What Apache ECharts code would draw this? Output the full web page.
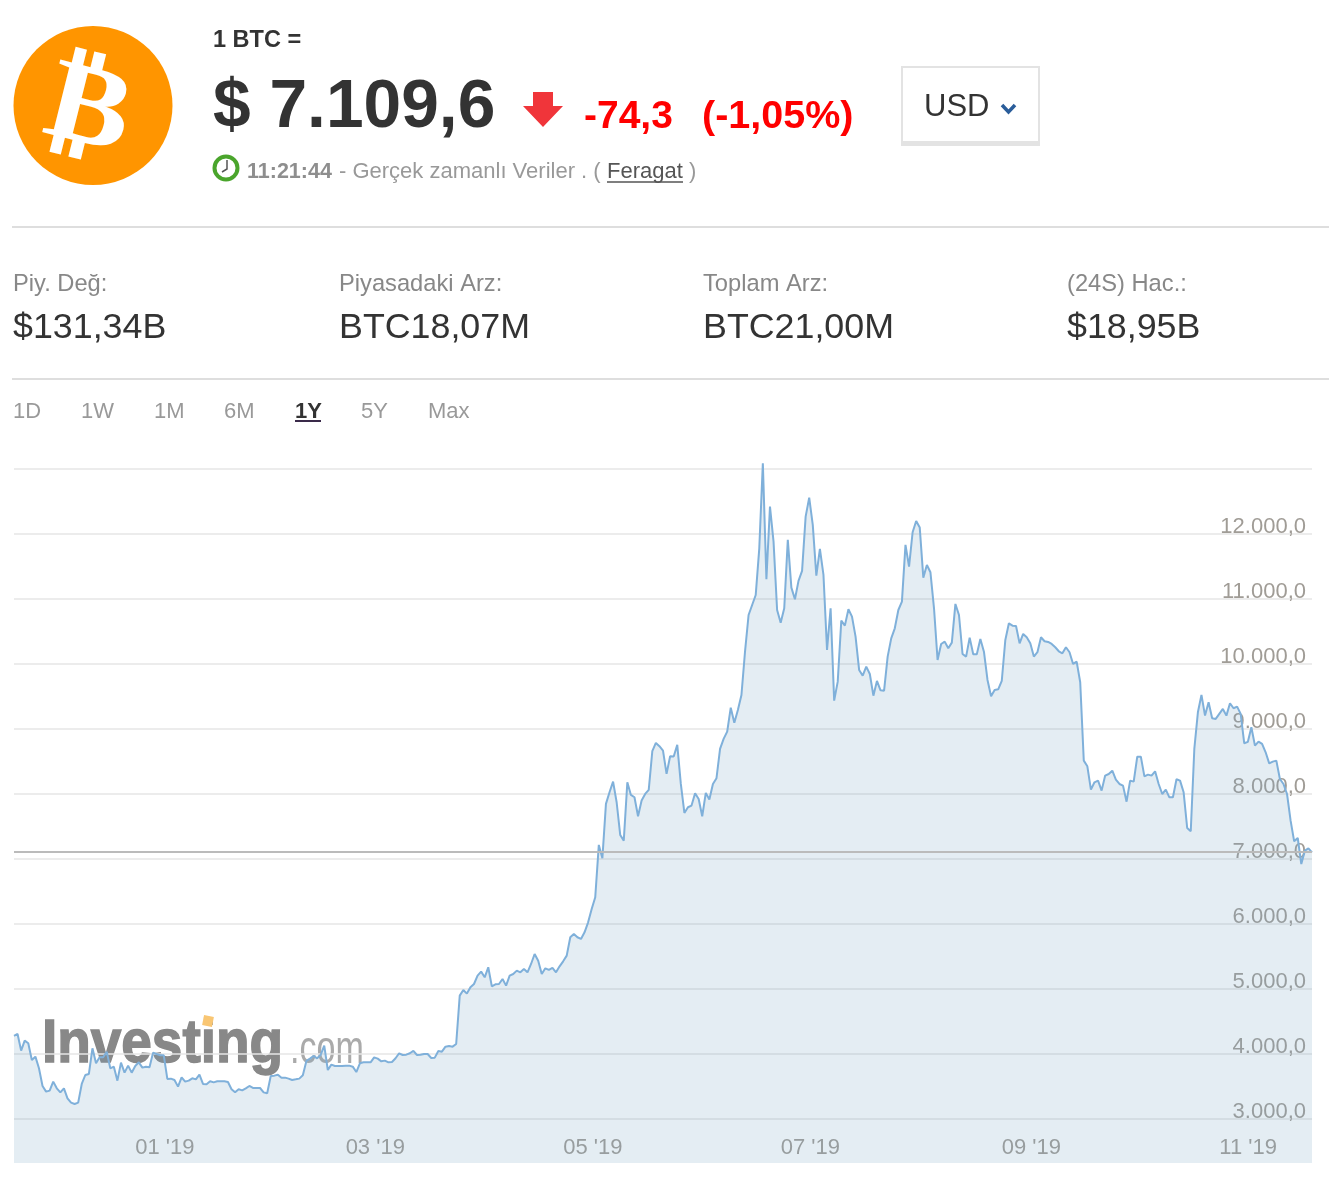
<!DOCTYPE html>
<html lang="tr">
<head>
<meta charset="utf-8">
<title>BTC USD</title>
<style>html,body{margin:0;padding:0;background:#fff;overflow:hidden;height:1182px}#c{width:1329px;height:1184px}</style>
<script src="https://cdn.jsdelivr.net/npm/echarts@6/dist/echarts.min.js"></script>
</head>
<body>
<div id="c"></div>
<script>
// ---- Data (USD, one value per day, from 2018-11-28)
const startDate = '2018-11-28';
const pricesWinter = [4277,4308,4052,4206,4165,3908,3959,3780,3508,3421,3436,3575,3472,3410,3472,3318,3251,3231,3251,3539,3677,3693,4088,3857,3949,3949,4036,3780,3805,3590,3867,3713,3821,3713,3816,3872,3790,3805,3795,4021,4000,3980,3980,3616,3621,3600,3498,3641,3575,3590,3626,3610,3682,3539,3534,3580,3564,3580,3580,3580,3569,3457,3410,3457,3441,3472,3508,3477,3477,3477,3410,3395,3662,3667,3682,3636,3636,3621,3600,3610,3621,3672,3893,3929,3970,3934,3985,4129,3754,3836,3816,3816,3816,3821,3821,3805,3723,3857,3872,3872,3872,3949,3929,3887,3898,3872,3877,3934,4011,3985,3990,4011,4047,3985,3990,4000,4000,3939,3944,4047,4036,4113,4123,4113,4154];
const pricesSpring = [4898,4985,4929,5026,5077,5206,5267,5180,5334,5041,5072,5077,5154,5052,5206,5231,5283,5257,5308,5257,5385,5539,5436,5231,5318,5293,5324,5257,5349,5426,5513,5796,5847,5796,5770,5872,6026,6232,6411,7217,7011,7848,8027,8191,7873,7370,7283,8181,7986,7950,7658,7899,8001,8063,8658,8786,8735,8668,8309,8581,8576,8756,8155,7709,7796,7822,8012,7924,7658,8017,7914,8155,8243,8694,8848];
const pricesSummer = [8959,9328,9097,9292,9523,10190,10754,10908,11062,11780,13089,11303,12422,11883,10831,10636,10857,11909,11175,10996,11278,11432,12268,12560,12140,11360,11770,11370,10216,10857,9436,9728,10667,10590,10842,10729,10421,9908,9821,9959,9846,9513,9739,9595,9590,10113,10395,10549,10831,10960,11832,11498,12027,12201,12099,11329,11524,11411,10857,10062,10308,10344,10241,10329,10924,10754,10154,10113,10406,10149,10149,10385,10190,9754,9503,9600,9610,9739,10370,10626,10590,10585,10318];
const pricesAutumn = [10463,10411,10319,10114,10181,10411,10350,10340,10309,10258,10196,10165,10258,10181,10001,10037,9719,8513,8426,8067,8180,8206,8052,8283,8308,8359,8221,8154,8129,7882,8206,8190,8575,8575,8272,8298,8283,8349,8154,8000,8067,7949,7949,8226,8206,8026,7477,7426,8693,9257,9524,9206,9411,9165,9155,9232,9309,9206,9396,9319,9344,9232,8780,8801,9026,8744,8806,8770,8642,8472,8498,8513,8231,8154,8000,7590,7272,7323,6923,7128,7164,7103];
const currentPrice = [7109.6];
const monthLabels = {'2019-01-01':"01 '19",'2019-03-01':"03 '19",'2019-05-01':"05 '19",'2019-07-01':"07 '19",'2019-09-01':"09 '19",'2019-11-01':"11 '19"};
const statLabels = ['Piy. Değ:','Piyasadaki Arz:','Toplam Arz:','(24S) Hac.:'];
const statValues = ['$131,34B','BTC18,07M','BTC21,00M','$18,95B'];
const rangeTabs = ['1D','1W','1M','6M','1Y','5Y','Max'];
const activeTab = '1Y';

const prices = pricesWinter.concat(pricesSpring, pricesSummer, pricesAutumn);
const categories = prices.map((_, i) => {
  const d = new Date(Date.parse(startDate + 'T00:00:00Z') + i * 864e5);
  return d.toISOString().slice(0, 10);
});

// ---- Layout of the page furniture
const FF = '"Liberation Sans", Arial, sans-serif';
const statX = [13, 339, 703, 1067];
const tabX = [13, 81, 154, 224, 295, 361, 428];

function txt(text, x, y, font, fill, extra, styleExtra) {
  return Object.assign({
    type: 'text', x: x, y: y,
    style: Object.assign({text: text, x: 0, y: 0, font: font + ' ' + FF, fill: fill,
      textAlign: 'left', align: 'left', textVerticalAlign: 'middle', verticalAlign: 'middle'}, styleExtra || {})
  }, extra || {});
}
function hline(x1, x2, y, color, w) {
  return {type: 'line', shape: {x1: x1, y1: y, x2: x2, y2: y}, style: {stroke: color, lineWidth: w}};
}

const graphics = [
  // logo
  {type: 'circle', shape: {cx: 93, cy: 105.5, r: 79.5}, style: {fill: '#ff9500'}},
  {type: 'text', x: 88, y: 113, rotation: -0.245, scaleX: 1.1,
   style: {text: '\u20BF', x: 0, y: 0, font: 'bold 114px "DejaVu Sans"', fill: '#fff',
     textAlign: 'center', align: 'center', textVerticalAlign: 'middle', verticalAlign: 'middle'}},
  // price header
  txt('1 BTC =', 213, 41, 'bold 23.5px', '#333'),
  txt('$ 7.109,6', 213, 108.5, 'bold 67.7px', '#333'),
  {type: 'polygon', shape: {points: [[533,92],[553,92],[553,106],[563,106],[543,127],[523,106],[533,106]]}, style: {fill: '#f0353a'}},
  txt('-74,3', 584, 117, 'bold 39px', '#f00'),
  txt('(-1,05%)', 702, 117, 'bold 39.5px', '#f00'),
  // currency select
  {type: 'rect', shape: {x: 902, y: 67, width: 137, height: 76}, style: {fill: '#fff', stroke: '#e3e3e3', lineWidth: 2}},
  {type: 'rect', shape: {x: 901, y: 141, width: 139, height: 5}, style: {fill: '#e3e3e3'}},
  txt('USD', 924, 107, '31px', '#333'),
  {type: 'polyline', shape: {points: [[1002,105],[1008.5,112],[1015,105]]}, style: {fill: null, stroke: '#2a5d9a', lineWidth: 3.5}},
  // time row
  {type: 'circle', shape: {cx: 226, cy: 168, r: 11.5}, style: {fill: '#fff', stroke: '#4aa52c', lineWidth: 4}},
  {type: 'polyline', shape: {points: [[227,160],[227,169],[222,172]]}, style: {fill: null, stroke: '#555', lineWidth: 1.5}},
  txt('11:21:44', 247, 172, 'bold 21.5px', '#8e8e8e'),
  txt('- Gerçek zamanlı Veriler . (', 339, 172, '22px', '#999'),
  txt('Feragat', 607, 172, '22px', '#555'),
  hline(607, 683, 182, '#555', 1.5),
  txt(')', 689, 172, '22px', '#999'),
  hline(12, 1329, 227, '#dedede', 2),
  hline(12, 1329, 379, '#dedede', 2),
  // watermark under the grid lines and the line
  txt('Investing', 42, 1045, 'bold 61px', '#888', {z: -1, scaleX: 0.9}, {stroke: '#888', lineWidth: 1.5}),
  txt('.com', 290, 1050, '46px', '#aaa', {z: -1, scaleX: 0.74}),
  {type: 'rect', x: 208, y: 1021, rotation: -0.2, shape: {x: -5, y: -5, width: 10, height: 10}, style: {fill: '#f9c673'}, z: -1}
];
statLabels.forEach((s, i) => graphics.push(txt(s, statX[i], 284, '23.7px', '#888')));
statValues.forEach((s, i) => graphics.push(txt(s, statX[i], 328, '35.8px', '#333')));
rangeTabs.forEach((s, i) => {
  const on = s === activeTab;
  graphics.push(txt(s, tabX[i], 412, (on ? 'bold ' : '') + '22px', on ? '#333' : '#999'));
  if (on) graphics.push(hline(tabX[i], tabX[i] + 26, 421, '#3a2a4a', 2));
});

const chart = echarts.init(document.getElementById('c'), null, {renderer: 'canvas'});
chart.setOption({
  animation: false,
  backgroundColor: '#fff',
  textStyle: {fontFamily: FF},
  grid: {left: 14, width: 1298, top: 469, height: 715},
  xAxis: {
    type: 'category', data: categories, boundaryGap: false,
    axisLine: {show: false}, axisTick: {show: false}, splitLine: {show: false},
    axisLabel: {
      inside: true, margin: 25, align: 'left', verticalAlign: 'bottom',
      fontSize: 22, color: '#a09c96', hideOverlap: false,
      interval: (i, v) => v in monthLabels,
      formatter: v => monthLabels[v] || ''
    }
  },
  yAxis: {
    type: 'value', position: 'right', min: 2000, max: 13000, interval: 1000,
    axisLine: {show: false}, axisTick: {show: false},
    splitLine: {show: true, lineStyle: {color: '#e6e6e6', width: 1.5}},
    axisLabel: {
      inside: true, margin: 6, align: 'right', verticalAlign: 'bottom', lineHeight: 14,
      fontSize: 22, color: '#a09c96', showMinLabel: true, showMaxLabel: true,
      formatter: v => (v <= 2000 || v >= 13000) ? '' : (v / 1000).toFixed(3) + ',0'
    }
  },
  series: [{
    type: 'line', data: prices, symbol: 'none', clip: false,
    lineStyle: {color: '#7fb0da', width: 2},
    areaStyle: {color: 'rgb(122,165,195)', opacity: 0.2, origin: 2323},
    markLine: {
      silent: true, symbol: 'none', animation: false,
      label: {show: false},
      lineStyle: {color: '#bbb', width: 2, type: 'solid'},
      data: [{yAxis: currentPrice[0]}]
    }
  }],
  graphic: {elements: graphics}
});
</script>
</body>
</html>
